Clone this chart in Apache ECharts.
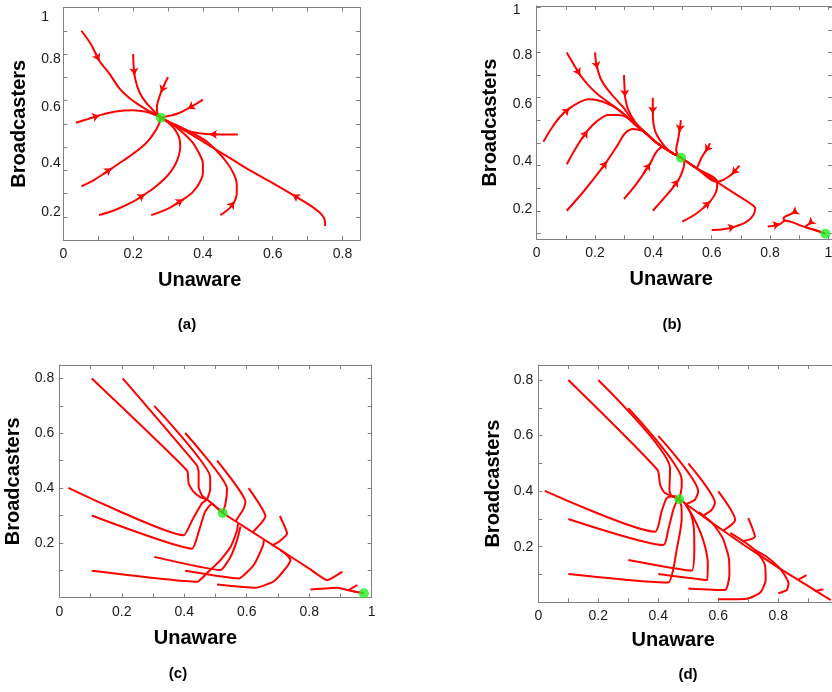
<!DOCTYPE html>
<html><head><meta charset="utf-8">
<script src="https://cdn.jsdelivr.net/npm/echarts@6/dist/echarts.min.js"></script>
<style>html,body{margin:0;padding:0;background:#fff}#c{width:832px;height:692px}</style>
</head><body><div id="c"></div>
<script>
// ---------------- DATA ----------------
// Panel (a)
const trajA = [
 [[0.052,0.9],[0.08,0.84],[0.103,0.771],[0.13,0.72],[0.162,0.65],[0.19,0.61],[0.219,0.579],[0.245,0.555],[0.265,0.538],[0.279,0.526]],
 [[0.2,0.8],[0.201,0.76],[0.204,0.71],[0.21,0.67],[0.22,0.63],[0.235,0.595],[0.25,0.57],[0.265,0.545],[0.279,0.526]],
 [[0.3,0.7],[0.29,0.67],[0.28,0.635],[0.272,0.6],[0.268,0.57],[0.27,0.545],[0.279,0.526]],
 [[0.4,0.604],[0.38,0.585],[0.357,0.565],[0.33,0.545],[0.305,0.534],[0.279,0.526]],
 [[0.5,0.454],[0.46,0.454],[0.42,0.455],[0.385,0.46],[0.355,0.47],[0.33,0.486],[0.305,0.505],[0.279,0.526]],
 [[0.036,0.504],[0.07,0.52],[0.103,0.536],[0.15,0.553],[0.2,0.558],[0.24,0.55],[0.265,0.537],[0.279,0.526]],
 [[0.052,0.231],[0.09,0.26],[0.138,0.307],[0.17,0.34],[0.2,0.371],[0.225,0.4],[0.245,0.43],[0.262,0.465],[0.273,0.495],[0.279,0.526]],
 [[0.102,0.107],[0.15,0.13],[0.2,0.165],[0.233,0.196],[0.265,0.23],[0.295,0.271],[0.315,0.31],[0.328,0.35],[0.335,0.4],[0.332,0.44],[0.32,0.475],[0.3,0.505],[0.279,0.526]],
 [[0.252,0.107],[0.3,0.135],[0.343,0.174],[0.37,0.205],[0.39,0.245],[0.4,0.29],[0.4,0.33],[0.39,0.37],[0.37,0.42],[0.34,0.465],[0.31,0.5],[0.279,0.526]],
 [[0.45,0.107],[0.475,0.135],[0.49,0.164],[0.497,0.2],[0.497,0.24],[0.488,0.285],[0.47,0.33],[0.445,0.375],[0.41,0.425],[0.37,0.46],[0.33,0.49],[0.3,0.51],[0.279,0.526]],
 [[0.75,0.06],[0.749,0.085],[0.74,0.11],[0.72,0.135],[0.69,0.165],[0.657,0.195],[0.6,0.245],[0.54,0.295],[0.48,0.35],[0.42,0.405],[0.36,0.46],[0.31,0.5],[0.279,0.526]]
];
const arrowA = [2,2,2,2,2,2,2,3,2,2,5];
const eqA = [[0.279,0.526]];

// Panel (b)
const trajB = [
 [[0.103,0.8],[0.126,0.749],[0.149,0.7],[0.177,0.656],[0.206,0.619],[0.24,0.585],[0.274,0.553],[0.309,0.516],[0.343,0.475],[0.377,0.44],[0.411,0.401],[0.457,0.362],[0.495,0.335]],
 [[0.2,0.8],[0.203,0.759],[0.208,0.729],[0.219,0.685],[0.24,0.641],[0.269,0.597],[0.297,0.557],[0.32,0.515],[0.343,0.478],[0.377,0.44],[0.411,0.401],[0.457,0.362],[0.495,0.335]],
 [[0.299,0.7],[0.301,0.649],[0.303,0.604],[0.314,0.546],[0.337,0.494],[0.36,0.462],[0.377,0.442],[0.411,0.402],[0.457,0.362],[0.495,0.335]],
 [[0.398,0.6],[0.398,0.56],[0.398,0.53],[0.401,0.48],[0.41,0.44],[0.43,0.4],[0.457,0.363],[0.495,0.335]],
 [[0.494,0.501],[0.492,0.475],[0.489,0.45],[0.484,0.41],[0.478,0.37],[0.485,0.345],[0.495,0.335]],
 [[0.594,0.399],[0.587,0.38],[0.578,0.362],[0.565,0.335],[0.553,0.3],[0.549,0.29],[0.52,0.313],[0.495,0.335]],
 [[0.695,0.3],[0.682,0.28],[0.669,0.262],[0.64,0.237],[0.617,0.229],[0.549,0.288],[0.495,0.335]],
 [[0.023,0.406],[0.051,0.465],[0.08,0.516],[0.112,0.553],[0.149,0.582],[0.177,0.593],[0.206,0.59],[0.24,0.575],[0.274,0.553],[0.309,0.516],[0.343,0.475],[0.377,0.44],[0.411,0.401],[0.457,0.362],[0.495,0.335]],
 [[0.103,0.306],[0.137,0.384],[0.174,0.454],[0.211,0.501],[0.246,0.524],[0.28,0.524],[0.309,0.513],[0.343,0.476],[0.377,0.44],[0.411,0.401],[0.457,0.362],[0.495,0.335]],
 [[0.103,0.101],[0.16,0.185],[0.206,0.259],[0.24,0.318],[0.274,0.384],[0.303,0.443],[0.331,0.462],[0.36,0.455],[0.377,0.44],[0.411,0.401],[0.457,0.362],[0.495,0.335]],
 [[0.299,0.153],[0.343,0.222],[0.389,0.31],[0.411,0.362],[0.434,0.384],[0.457,0.362],[0.495,0.335]],
 [[0.398,0.101],[0.446,0.171],[0.486,0.237],[0.503,0.288],[0.506,0.318],[0.495,0.335]],
 [[0.499,0.053],[0.549,0.09],[0.594,0.141],[0.615,0.185],[0.619,0.226],[0.549,0.288],[0.495,0.335]],
 [[0.6,0.016],[0.64,0.019],[0.68,0.031],[0.72,0.053],[0.743,0.082],[0.749,0.112],[0.731,0.134],[0.686,0.171],[0.617,0.229],[0.549,0.288],[0.495,0.335]],
 [[0.792,0.031],[0.834,0.042],[0.851,0.057],[0.914,0.032],[0.99,0.0]],
 [[0.891,0.101],[0.874,0.088],[0.846,0.068],[0.851,0.057]],
 [[0.943,0.053],[0.931,0.04],[0.92,0.03],[0.95,0.018],[0.99,0.0]]
];
const arrowB = [2,2,2,2,2,2,2,3,2,3,2,2,2,2,1,1,1];
const eqB = [[0.495,0.335],[0.99,0.0]];

// Panel (c)
const trajC = [
 [[0.104,0.8],[0.409,0.464],[0.414,0.416],[0.428,0.389],[0.451,0.367],[0.473,0.358],[0.523,0.309]],
 [[0.203,0.8],[0.441,0.482],[0.446,0.458],[0.446,0.404],[0.457,0.373],[0.473,0.358]],
 [[0.304,0.7],[0.483,0.44],[0.483,0.395],[0.473,0.358]],
 [[0.403,0.601],[0.537,0.398],[0.532,0.343],[0.523,0.309]],
 [[0.505,0.5],[0.596,0.349],[0.59,0.325],[0.565,0.28]],
 [[0.606,0.4],[0.66,0.297],[0.649,0.276],[0.62,0.24]],
 [[0.706,0.298],[0.729,0.234],[0.703,0.204],[0.68,0.19]],
 [[0.906,0.095],[0.858,0.064],[0.8,0.106],[0.7,0.18],[0.601,0.252],[0.523,0.309]],
 [[0.954,0.046],[0.927,0.028],[0.975,0.016]],
 [[0.804,0.03],[0.89,0.036],[0.933,0.025],[0.975,0.016]],
 [[0.029,0.401],[0.398,0.228],[0.425,0.282],[0.457,0.345],[0.473,0.358]],
 [[0.104,0.3],[0.425,0.179],[0.446,0.24],[0.466,0.312],[0.488,0.343],[0.523,0.309]],
 [[0.104,0.098],[0.441,0.058],[0.473,0.09],[0.516,0.137],[0.548,0.185],[0.569,0.246],[0.572,0.27]],
 [[0.304,0.149],[0.516,0.101],[0.548,0.149],[0.569,0.21],[0.58,0.26]],
 [[0.403,0.098],[0.574,0.07],[0.622,0.119],[0.652,0.19],[0.655,0.21]],
 [[0.505,0.048],[0.628,0.036],[0.687,0.06],[0.729,0.113],[0.74,0.137],[0.729,0.155],[0.708,0.173]]
];
const eqC = [[0.523,0.309],[0.975,0.016]];

// Panel (d)
const trajD = [
 [[0.1,0.8],[0.397,0.477],[0.406,0.423],[0.422,0.393],[0.456,0.378],[0.47,0.371]],
 [[0.2,0.8],[0.439,0.483],[0.439,0.465],[0.437,0.405],[0.444,0.383],[0.47,0.371]],
 [[0.3,0.699],[0.478,0.441],[0.478,0.417],[0.47,0.371]],
 [[0.4,0.599],[0.533,0.399],[0.522,0.369],[0.494,0.354]],
 [[0.5,0.5],[0.589,0.357],[0.578,0.333],[0.55,0.311]],
 [[0.6,0.399],[0.656,0.297],[0.644,0.279],[0.617,0.258]],
 [[0.7,0.303],[0.722,0.236],[0.683,0.22]],
 [[0.894,0.098],[0.867,0.082]],
 [[0.95,0.047],[0.922,0.04]],
 [[0.47,0.371],[0.583,0.283],[0.694,0.2],[0.8,0.125],[0.9,0.058],[0.975,0.008]],
 [[0.022,0.401],[0.389,0.254],[0.411,0.327],[0.428,0.375],[0.455,0.383],[0.47,0.371]],
 [[0.1,0.3],[0.417,0.206],[0.433,0.26],[0.45,0.333],[0.464,0.368],[0.47,0.371]],
 [[0.1,0.102],[0.433,0.071],[0.45,0.12],[0.461,0.188],[0.472,0.25],[0.478,0.3],[0.477,0.345],[0.47,0.371]],
 [[0.3,0.152],[0.511,0.114],[0.52,0.2],[0.519,0.26],[0.508,0.32],[0.485,0.362]],
 [[0.4,0.102],[0.563,0.08],[0.565,0.14],[0.556,0.2],[0.539,0.255],[0.515,0.31],[0.49,0.355]],
 [[0.5,0.05],[0.622,0.044],[0.637,0.1],[0.635,0.16],[0.615,0.23],[0.58,0.285],[0.535,0.325]],
 [[0.6,0.011],[0.694,0.013],[0.74,0.035],[0.758,0.08],[0.755,0.135],[0.73,0.18],[0.69,0.215],[0.64,0.25]],
 [[0.8,0.032],[0.828,0.044],[0.834,0.068],[0.82,0.1],[0.8,0.128],[0.76,0.165],[0.72,0.19]]
];
const eqD = [[0.47,0.371]];

// Tick marks and tick labels
const xTicksA = [0.1,0.2,0.3,0.4,0.5,0.6,0.7,0.8];
const yTicksA = [0.1,0.2,0.3,0.4,0.5,0.6,0.7,0.8,0.9];
const xLabelValA = [0,0.2,0.4,0.6,0.8];
const xLabelTxtA = ['0','0.2','0.4','0.6','0.8'];
const yLabelValA = [0.96,0.78,0.57,0.33,0.12];
const yLabelTxtA = ['1','0.8','0.6','0.4','0.2'];

const xTicksB = [0.1,0.2,0.3,0.4,0.5,0.6,0.7,0.8,0.9,1.0];
const yTicksB = [0,0.1,0.2,0.3,0.4,0.5,0.6,0.7,0.8,0.9,1.0];
const xLabelValB = [0,0.2,0.4,0.6,0.8,1];
const xLabelTxtB = ['0','0.2','0.4','0.6','0.8','1'];
const yLabelValB = [0.987,0.788,0.572,0.318,0.108];
const yLabelTxtB = ['1','0.8','0.6','0.4','0.2'];

const xTicksCD = [0.1,0.2,0.3,0.4,0.5,0.6,0.7,0.8,0.9];
const yTicksCD = [0.1,0.2,0.3,0.4,0.5,0.6,0.7,0.8];
const xLabelValCD = [0,0.2,0.4,0.6,0.8,1];
const xLabelTxtCD = ['0','0.2','0.4','0.6','0.8','1'];
const yLabelValCD = [0.2,0.4,0.6,0.8];
const yLabelTxtCD = ['0.2','0.4','0.6','0.8'];

const xName = 'Unaware', yName = 'Broadcasters';
const tags = ['(a)','(b)','(c)','(d)'];

// ---------------- LAYOUT / STYLE ----------------
const FONT = 'Liberation Sans, Arial, Helvetica, sans-serif';
const RED = '#ff0000', GREEN = '#22ee22', FRAME = '#808080', TXT = '#1a1a1a';

const panels = [
 {grid:{left:63.3,top:7.5,width:296.7,height:232.5}, xr:[0,0.85], yr:[0,1],
  xT:xTicksA, yT:yTicksA, xLV:xLabelValA, xLT:xLabelTxtA, yLV:yLabelValA, yLT:yLabelTxtA,
  yAlign:'left', yMargin:22, xPad:24, xGap:30, yGap:34, traj:trajA, arrows:arrowA, eq:eqA, smooth:0.35, tag:[187,325], rightLine:true},
 {grid:{left:536.7,top:6,width:295.2,height:233.3}, xr:[0,1.012], yr:[-0.025,1.005],
  xT:xTicksB, yT:yTicksB, xLV:xLabelValB, xLT:xLabelTxtB, yLV:yLabelValB, yLT:yLabelTxtB,
  yAlign:'left', yMargin:24, xPad:26, xGap:30, yGap:36, traj:trajB, arrows:arrowB, eq:eqB, smooth:0.35, tag:[672,325], rightLine:true},
 {grid:{left:59.3,top:365,width:312.4,height:232.7}, xr:[0,1], yr:[0,0.849],
  xT:xTicksCD, yT:yTicksCD, xLV:xLabelValCD, xLT:xLabelTxtCD, yLV:yLabelValCD, yLT:yLabelTxtCD,
  yAlign:'right', yMargin:5, xPad:40, xGap:31, yGap:36, traj:trajC, arrows:null, eq:eqC, smooth:0.15, tag:[178,674], rightLine:true},
 {grid:{left:538.3,top:365,width:300,height:237.3}, xr:[0,1], yr:[0,0.854],
  xT:xTicksCD, yT:yTicksCD, xLV:xLabelValCD, xLT:xLabelTxtCD, yLV:yLabelValCD, yLT:yLabelTxtCD,
  yAlign:'right', yMargin:5, xPad:30, xGap:28, yGap:35, traj:trajD, arrows:null, eq:eqD, smooth:0.2, tag:[688,675], rightLine:true}
];

function lookup(vals, txts){
  return function(v){
    for (let i=0;i<vals.length;i++) if (Math.abs(vals[i]-v) < 1e-9) return txts[i];
    return '';
  };
}

const grids=[], xAxes=[], yAxes=[], series=[], graphics=[];
panels.forEach((p,g)=>{
  grids.push(Object.assign({containLabel:false, outerBoundsMode:'none'}, p.grid));
  const line = {show:true, onZero:false, lineStyle:{color:FRAME, width:1}};
  const xTick = {show:true, inside:true, length:4, customValues:p.xT, lineStyle:{color:FRAME}};
  const yTick = {show:true, inside:true, length:4, customValues:p.yT, lineStyle:{color:FRAME}};
  xAxes.push({type:'value', gridIndex:g, position:'bottom', min:p.xr[0], max:p.xr[1],
    axisLine:line, axisTick:xTick, splitLine:{show:false},
    axisLabel:{show:true, customValues:p.xLV, formatter:lookup(p.xLV,p.xLT), margin:7,
      color:TXT, fontSize:14, fontFamily:FONT},
    name:xName, nameLocation:'middle', nameGap:p.xGap,
    nameTextStyle:{fontSize:20, fontWeight:'bold', color:'#000', fontFamily:FONT, padding:[0,p.xPad,0,0]}});
  xAxes.push({type:'value', gridIndex:g, position:'top', min:p.xr[0], max:p.xr[1],
    axisLine:line, axisTick:xTick, axisLabel:{show:false}, splitLine:{show:false}});
  yAxes.push({type:'value', gridIndex:g, position:'left', min:p.yr[0], max:p.yr[1],
    axisLine:line, axisTick:yTick, splitLine:{show:false},
    axisLabel:{show:true, customValues:p.yLV, formatter:lookup(p.yLV,p.yLT), margin:p.yMargin,
      align:p.yAlign, color:TXT, fontSize:14, fontFamily:FONT},
    name:yName, nameLocation:'middle', nameGap:p.yGap,
    nameTextStyle:{fontSize:20, fontWeight:'bold', color:'#000', fontFamily:FONT}});
  yAxes.push({type:'value', gridIndex:g, position:'right', min:p.yr[0], max:p.yr[1],
    axisLine:line, axisTick:yTick, axisLabel:{show:false}, splitLine:{show:false}});

  const xi = 2*g, yi = 2*g;
  p.traj.forEach(tr=>{
    series.push({type:'line', xAxisIndex:xi, yAxisIndex:yi, data:tr, showSymbol:false, symbol:'none',
      smooth:p.smooth, lineStyle:{color:RED, width:2}, silent:true, animation:false, z:2});
  });
  if (p.arrows){
    const segs = p.arrows.map((idx,k)=>{
      const tr = p.traj[k], a = tr[idx-1], b = tr[idx];
      return {coords:[[(a[0]+b[0])/2,(a[1]+b[1])/2], b]};
    });
    series.push({type:'lines', coordinateSystem:'cartesian2d', xAxisIndex:xi, yAxisIndex:yi,
      data:segs, symbol:['none','arrow'], symbolSize:7, lineStyle:{color:RED, width:2, opacity:1},
      silent:true, animation:false, z:3});
  }
  series.push({type:'scatter', xAxisIndex:xi, yAxisIndex:yi, data:p.eq, symbol:'circle', symbolSize:10,
    itemStyle:{color:GREEN}, silent:true, animation:false, z:5});
  graphics.push({type:'text', x:p.tag[0], y:p.tag[1],
    style:{text:tags[g], font:'bold 15px '+FONT, fill:'#000', align:'center', verticalAlign:'middle'}});
});

const chart = echarts.init(document.getElementById('c'), null, {renderer:'canvas'});
chart.setOption({animation:false, backgroundColor:'#fff', grid:grids, xAxis:xAxes, yAxis:yAxes, series, graphic:graphics});
</script></body></html>
